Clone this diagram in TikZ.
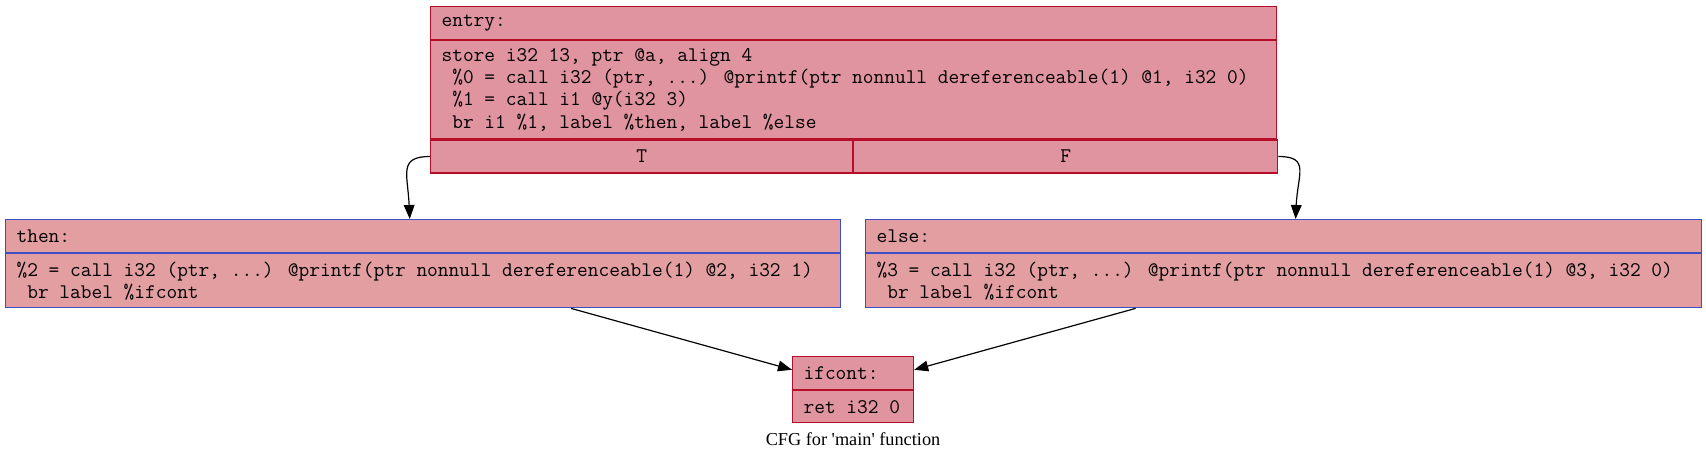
\documentclass[tikz,border=0pt]{standalone}
\usepackage{fontspec}
\newfontfamily\capfont{Liberation Serif}
\usepackage{tikz}
\usetikzlibrary{arrows.meta, positioning}

\definecolor{hotfill}{HTML}{E094A0}
\definecolor{hotline}{HTML}{B70D28}
\definecolor{coolfill}{HTML}{E29EA1}
\definecolor{coolline}{HTML}{3D50C3}
\newcommand\lead{\hphantom{0}}

\begin{document}
\begin{tikzpicture}[
  x=0.75pt, y=-0.75pt,
  cell/.style={draw, rectangle, anchor=north west, inner xsep=8.25pt, inner ysep=0pt, line width=0.9pt, font=\ttfamily\fontsize{15.6}{16.6}\selectfont,
    execute at begin node={\spaceskip=0pt\xspaceskip=0pt}},
  hot/.style={cell, fill=hotfill, draw=hotline},
  cool/.style={cell, fill=coolfill, draw=coolline},
  arr/.style={-{Triangle[length=10.5pt, width=8pt]}, line width=0.9pt}
]
\useasboundingbox (0,0) rectangle (1706,460);

% entry block
\node[hot, text width=618pt, minimum height=24.75pt] (entryhead) at (430,6) {entry:};
\node[hot, text width=618pt, minimum height=73.5pt] (entrybody) at (entryhead.south west) {store i32 13, ptr @a, align 4\\
\lead\%0 = call i32 (ptr, ...) @printf(ptr nonnull dereferenceable(1) @1, i32 0)\\
\lead\%1 = call i1 @y(i32 3)\\
\lead br i1 \%1, label \%then, label \%else};
\node[hot, text width=300pt, minimum height=24.75pt, align=center] (entryT) at (entrybody.south west) {T};
\node[hot, text width=301.5pt, minimum height=24.75pt, align=center] (entryF) at (entryT.north east) {F};

% then / else blocks
\node[cool, text width=609.75pt, minimum height=24.75pt] (thenhead) at (5,219) {then:};
\node[cool, text width=609.75pt, minimum height=40.5pt] (thenbody) at (thenhead.south west) {\%2 = call i32 (ptr, ...) @printf(ptr nonnull dereferenceable(1) @2, i32 1)\\
\lead br label \%ifcont};
\node[cool, text width=610.5pt, minimum height=24.75pt] (elsehead) at (865,219) {else:};
\node[cool, text width=610.5pt, minimum height=40.5pt] (elsebody) at (elsehead.south west) {\%3 = call i32 (ptr, ...) @printf(ptr nonnull dereferenceable(1) @3, i32 0)\\
\lead br label \%ifcont};

% ifcont block
\node[hot, text width=74.25pt, minimum height=24.75pt] (ifconthead) at (792,356) {ifcont:};
\node[hot, text width=74.25pt, minimum height=24pt] (ifcontbody) at (ifconthead.south west) {ret i32 0};

\node[font=\capfont\fontsize{13.7}{16}\selectfont] (caption) at (853,439) {CFG for 'main' function};

\draw[arr] (entryT.west) .. controls +(-32,0) and +(-2,-45) .. ([xshift=-10pt]thenhead.north);
\draw[arr] (entryF.east) .. controls +(32,0) and +(2,-45) .. ([xshift=9pt]elsehead.north);
\draw[arr] ([xshift=111pt]thenbody.south) -- ([yshift=2.5pt]ifconthead.west);
\draw[arr] ([xshift=-111pt]elsebody.south) -- ([yshift=2.5pt]ifconthead.east);

\end{tikzpicture}
\end{document}
